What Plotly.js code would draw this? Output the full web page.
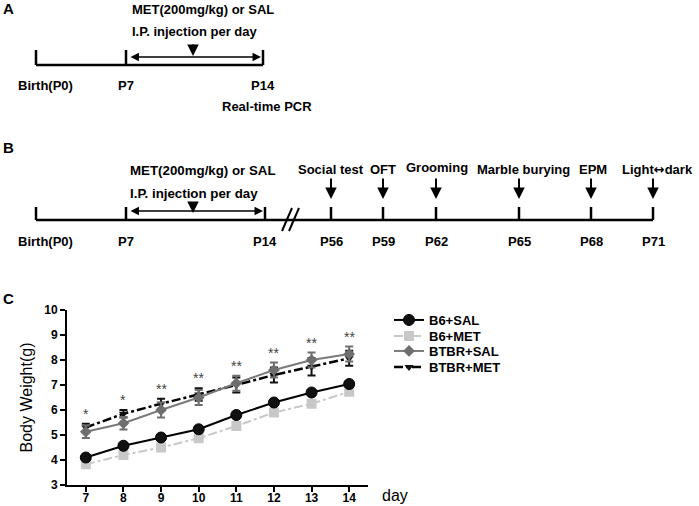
<!DOCTYPE html>
<html>
<head>
<meta charset="utf-8">
<script src="https://cdn.plot.ly/plotly-3.0.1.min.js"></script>
<style>html,body{margin:0;padding:0;background:#fff;}#chart{width:699px;height:506px;}</style>
</head>
<body>
<div id="chart"></div>
<script>
// ---- Panel C data ----
const days = [7, 8, 9, 10, 11, 12, 13, 14];
const b6Sal   = [4.10, 4.57, 4.90, 5.23, 5.80, 6.30, 6.70, 7.04];
const b6Met   = [3.83, 4.20, 4.50, 4.87, 5.36, 5.90, 6.25, 6.73];
const btbrSal = [5.13, 5.47, 6.00, 6.50, 7.07, 7.60, 8.00, 8.24];
const btbrMet = [5.30, 5.85, 6.25, 6.62, 7.00, 7.40, 7.73, 8.07];
const btbrSalErr = [0.25, 0.25, 0.30, 0.30, 0.30, 0.30, 0.30, 0.30];
const btbrMetErr = [0.15, 0.15, 0.20, 0.25, 0.30, 0.30, 0.35, 0.30];
const sigLabels = ['*', '*', '**', '**', '**', '**', '**', '**'];
const seriesNames = ['B6+SAL', 'B6+MET', 'BTBR+SAL', 'BTBR+MET'];
const yTicks = [3, 4, 5, 6, 7, 8, 9, 10];

// ---- Panel A / B timeline labels ----
const timelineA = ['Birth(P0)', 'P7', 'P14'];
const timelineB = ['Birth(P0)', 'P7', 'P14', 'P56', 'P59', 'P62', 'P65', 'P68', 'P71'];
const testsB = ['Social test', 'OFT', 'Grooming', 'Marble burying', 'EPM',
  'Light<span style="font-family:\'DejaVu Sans\';font-size:13px">\u2194</span>dark'];
const treatLine1 = 'MET(200mg/kg) or SAL';
const treatLine2 = 'I.P. injection per day';

// schematic (pixel) layout of the timelines
const W = 699, H = 506;
const px = v => v / W, py = v => 1 - v / H;
const posA = [36, 126, 263];
const posB = [36, 126, 265, 331, 383, 436, 519, 591, 653];
const testPosB = [331, 383, 436, 519, 591, 653];

const FONT = 'Arial, "Liberation Sans", sans-serif';
const shapes = [];
const ann = [];
function line(x0, y0, x1, y1, w, color) {
  shapes.push({type: 'line', xref: 'paper', yref: 'paper', x0: px(x0), y0: py(y0), x1: px(x1), y1: py(y1),
    line: {color: color || '#000', width: w}});
}
function txt(text, x, y, size, opts) {
  ann.push(Object.assign({text: text, xref: 'paper', yref: 'paper', x: px(x), y: py(y), showarrow: false,
    xanchor: 'center', yanchor: 'middle', font: {family: FONT, size: size, color: '#000', weight: 'bold'}}, opts || {}));
}
function downArrow(x, yTop, yTip, w) {
  ann.push({text: '', xref: 'paper', yref: 'paper', x: px(x), y: py(yTip), ax: 0, ay: -(yTip - yTop),
    showarrow: true, arrowhead: 2, arrowsize: 1.15, arrowwidth: w || 2, arrowcolor: '#000'});
}
function dblArrow(x0, x1, y) {
  ann.push({text: '', xref: 'paper', yref: 'paper', x: px(x1), y: py(y), ax: -(x1 - x0), ay: 0,
    showarrow: true, arrowhead: 2, startarrowhead: 2, arrowside: 'end+start', arrowsize: 1.3, startarrowsize: 1.3,
    arrowwidth: 1.3, arrowcolor: '#000'});
}

// Panel letters
txt('A', 8, 8, 15);
txt('B', 8, 147, 15);
txt('C', 8, 298, 15);

// ---- Panel A ----
const yA = 65;
line(posA[0], yA, posA[2], yA, 2.5);
posA.forEach(x => line(x, yA - 15, x, yA, 2.5));
dblArrow(posA[1] + 3, posA[2] - 2, 57);
downArrow(193, 43, 56);
txt(treatLine1, 130, 10, 13, {xanchor: 'left'});
txt(treatLine2, 130, 32, 13, {xanchor: 'left'});
timelineA.forEach((t, i) => txt(t, i === 0 ? 45 : posA[i], 85, 13));
txt('Real-time PCR', 267, 106, 13);

// ---- Panel B ----
const yB = 220;
line(posB[0], yB, posB[posB.length - 1], yB, 2.5);
posB.forEach(x => line(x, yB - 13, x, yB, 2.5));
line(282, 231, 292, 208, 2);
line(289, 231, 299, 208, 2);
dblArrow(posB[1] + 3, posB[2] - 2, 211);
downArrow(193, 202, 213);
txt(treatLine1, 128, 170, 13.3, {xanchor: 'left'});
txt(treatLine2, 128, 193, 13.3, {xanchor: 'left'});
timelineB.forEach((t, i) => txt(t, i === 0 ? 45 : posB[i], 241, 13));
const testLabelX = [331, 383, 437, 523, 593, 657];
testsB.forEach((t, i) => txt(t, testLabelX[i], i === 2 ? 167 : 169, 13));
testPosB.forEach(x => downArrow(x, 177, 199));

// ---- Panel C significance marks ----
days.forEach((d, i) => {
  const top = Math.max(btbrSal[i] + btbrSalErr[i], btbrMet[i] + btbrMetErr[i]);
  ann.push({text: sigLabels[i], xref: 'x', yref: 'y', x: d, y: top, yanchor: 'bottom', yshift: 0,
    showarrow: false, font: {family: FONT, size: 14, color: '#444'}});
});
// axis title "day"
txt('day', 395, 495, 16, {font: {family: FONT, size: 16, color: '#000', weight: 'normal'}});

const traces = [
  {x: days, y: b6Met, name: seriesNames[1], legend: 'legend2', mode: 'lines+markers',
   line: {color: '#c8c8c8', width: 2, dash: 'dashdot'},
   marker: {symbol: 'square', size: 10, color: '#c8c8c8'}},
  {x: days, y: b6Sal, name: seriesNames[0], legend: 'legend', mode: 'lines+markers',
   line: {color: '#000', width: 2},
   marker: {symbol: 'circle', size: 11, color: '#111', line: {color: '#000', width: 1}}},
  {x: days, y: btbrMet, name: seriesNames[3], legend: 'legend4', mode: 'lines+markers',
   line: {color: '#000', width: 2.5, dash: 'dashdot'},
   marker: {symbol: 'triangle-down', size: 8, color: '#111'},
   error_y: {type: 'data', array: btbrMetErr, visible: true, color: '#111', thickness: 2, width: 4}},
  {x: days, y: btbrSal, name: seriesNames[2], legend: 'legend3', mode: 'lines+markers',
   line: {color: '#7a7a7a', width: 2},
   marker: {symbol: 'diamond', size: 9, color: '#6e6e6e'},
   error_y: {type: 'data', array: btbrSalErr, visible: true, color: '#6e6e6e', thickness: 2, width: 4}}
];

const legendRows = [320, 336, 351, 367];
function legendAt(row) {
  return {x: px(389), y: py(row), xanchor: 'left', yanchor: 'middle', bgcolor: 'rgba(0,0,0,0)',
    font: {family: FONT, size: 13, color: '#000', weight: 'bold'}, itemwidth: 30};
}

const layout = {
  width: W, height: H, autosize: false,
  margin: {l: 0, r: 0, t: 0, b: 0},
  paper_bgcolor: '#fff', plot_bgcolor: '#fff',
  font: {family: FONT, color: '#000'},
  showlegend: true,
  legend: legendAt(legendRows[0]),
  legend2: legendAt(legendRows[1]),
  legend3: legendAt(legendRows[2]),
  legend4: legendAt(legendRows[3]),
  xaxis: {domain: [px(67), px(368)], range: [6.5, 14.5], tickvals: days, ticktext: days.map(String),
    showline: true, linewidth: 2, linecolor: '#000', ticks: 'outside', ticklen: 5, tickwidth: 2, tickcolor: '#000',
    ticklabelstandoff: -4,
    showgrid: false, zeroline: false, tickfont: {family: FONT, size: 12, color: '#000', weight: 'bold'}, fixedrange: true},
  yaxis: {domain: [1 - 485 / H, 1 - 310 / H], range: [3, 10], tickvals: yTicks,
    showline: true, linewidth: 2, linecolor: '#000', ticks: 'outside', ticklen: 5, tickwidth: 2, tickcolor: '#000',
    showgrid: false, zeroline: false, tickfont: {family: FONT, size: 12, color: '#000', weight: 'bold'},
    title: {text: 'Body Weight(g)', font: {family: FONT, size: 16, color: '#000'}, standoff: 8}, fixedrange: true},
  shapes: shapes,
  annotations: ann
};
Plotly.newPlot('chart', traces, layout, {displayModeBar: false, staticPlot: true});
</script>
</body>
</html>
